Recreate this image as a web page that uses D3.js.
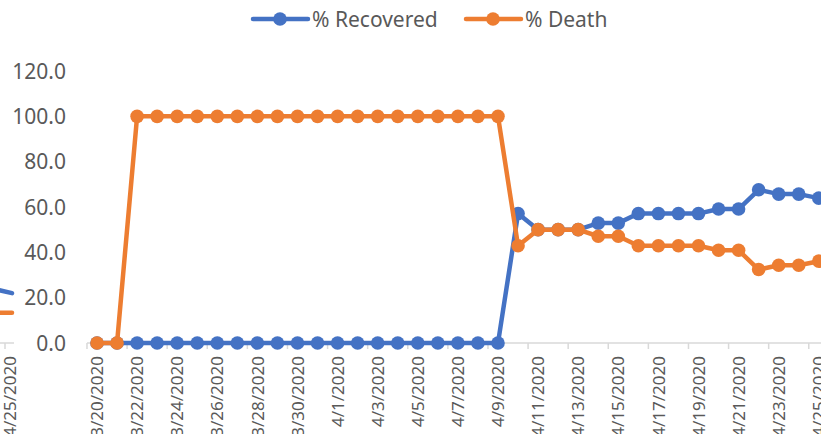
<!DOCTYPE html>
<html>
<head>
<meta charset="utf-8">
<script src="https://cdn.jsdelivr.net/npm/d3@7"></script>
<style>
  body { margin: 0; background: #fff; }
  svg { display: block; font-family: "Noto Sans", "Open Sans", sans-serif; }
</style>
</head>
<body>
<div id="chart"></div>
<script>
// dates on the category axis
const dates = [
  "3/20/2020", "3/21/2020", "3/22/2020", "3/23/2020", "3/24/2020", "3/25/2020",
  "3/26/2020", "3/27/2020", "3/28/2020", "3/29/2020", "3/30/2020", "3/31/2020",
  "4/1/2020", "4/2/2020", "4/3/2020", "4/4/2020", "4/5/2020", "4/6/2020",
  "4/7/2020", "4/8/2020", "4/9/2020", "4/10/2020", "4/11/2020", "4/12/2020",
  "4/13/2020", "4/14/2020", "4/15/2020", "4/16/2020", "4/17/2020", "4/18/2020",
  "4/19/2020", "4/20/2020", "4/21/2020", "4/22/2020", "4/23/2020", "4/24/2020",
  "4/25/2020"
];

const recovered = [
  0, 0, 0, 0, 0, 0, 0, 0, 0, 0, 0, 0, 0, 0, 0, 0, 0, 0, 0, 0, 0,
  57.1, 50.0, 50.0, 50.0, 52.9, 52.9, 57.1, 57.1, 57.1, 57.1, 59.1, 59.1,
  67.6, 65.7, 65.7, 63.9
];

const death = [
  0, 0, 100, 100, 100, 100, 100, 100, 100, 100, 100, 100, 100, 100, 100, 100,
  100, 100, 100, 100, 100,
  42.9, 50.0, 50.0, 50.0, 47.1, 47.1, 42.9, 42.9, 42.9, 42.9, 40.9, 40.9,
  32.4, 34.3, 34.3, 36.1
];

const yTicks = [0, 20, 40, 60, 80, 100, 120];

// tail of the neighbouring chart that shows at the left edge of the picture
const tailLabel = "4/25/2020";
const tailRecovered = [24.0, 22.0];
const tailDeath = [13.3, 13.3];

const W = 821, H = 434;
const blue = "#4472C4", orange = "#ED7D31";
const textColor = "#595959";

const svg = d3.select("#chart").append("svg")
  .attr("width", W)
  .attr("height", H);

const step = 20.05;
const x = d3.scalePoint()
  .domain(dates)
  .range([97, 97 + step * (dates.length - 1)]);

const y = d3.scaleLinear()
  .domain([0, 120])
  .range([343, 71]);

// y axis labels
svg.append("g")
  .selectAll("text")
  .data(yTicks)
  .join("text")
  .attr("x", 66)
  .attr("y", d => y(d))
  .attr("dy", "0.36em")
  .attr("text-anchor", "end")
  .attr("font-size", 21)
  .attr("fill", textColor)
  .text(d => d3.format(".1f")(d));

// x axis line and ticks
const axisG = svg.append("g");
axisG.append("line")
  .attr("x1", x(dates[0]) - step / 2)
  .attr("x2", W + 10)
  .attr("y1", y(0))
  .attr("y2", y(0))
  .attr("stroke", "#d9d9d9")
  .attr("stroke-width", 1.5);

axisG.selectAll(".tick")
  .data(dates.filter((d, i) => i % 2 === 0))
  .join("line")
  .attr("class", "tick")
  .attr("x1", d => x(d) - step / 2)
  .attr("x2", d => x(d) - step / 2)
  .attr("y1", y(0))
  .attr("y2", y(0) + 6)
  .attr("stroke", "#d9d9d9")
  .attr("stroke-width", 1.5);

axisG.selectAll(".lbl")
  .data(dates.filter((d, i) => i % 2 === 0))
  .join("text")
  .attr("class", "lbl")
  .attr("transform", d => `translate(${x(d)},${y(0) + 13}) rotate(-90)`)
  .attr("dy", "0.36em")
  .attr("text-anchor", "end")
  .attr("font-size", 17)
  .attr("fill", textColor)
  .text(d => d);

// series
const line = d3.line()
  .x((d, i) => x(dates[i]))
  .y(d => y(d));

const series = [
  { name: "% Recovered", values: recovered, color: blue },
  { name: "% Death", values: death, color: orange }
];

series.forEach(s => {
  const g = svg.append("g");
  g.append("path")
    .attr("d", line(s.values))
    .attr("fill", "none")
    .attr("stroke", s.color)
    .attr("stroke-width", 4.5)
    .attr("stroke-linejoin", "round");
  g.selectAll("circle")
    .data(s.values)
    .join("circle")
    .attr("cx", (d, i) => x(dates[i]))
    .attr("cy", d => y(d))
    .attr("r", 6.8)
    .attr("fill", s.color);
});

// left edge fragment of the neighbouring chart
const tail = svg.append("g");
const tx = d3.scaleLinear().domain([0, 1]).range([-8, 12]);
tail.append("line")
  .attr("x1", 0).attr("x2", 14)
  .attr("y1", y(0)).attr("y2", y(0))
  .attr("stroke", "#d9d9d9").attr("stroke-width", 1.5);
tail.append("line")
  .attr("x1", 5).attr("x2", 5)
  .attr("y1", y(0)).attr("y2", y(0) + 6)
  .attr("stroke", "#d9d9d9").attr("stroke-width", 1.5);
[[tailRecovered, blue], [tailDeath, orange]].forEach(([vals, c]) => {
  tail.append("path")
    .attr("d", d3.line().x((d, i) => tx(i)).y(d => y(d))(vals))
    .attr("fill", "none")
    .attr("stroke", c)
    .attr("stroke-width", 4.5)
    .attr("stroke-linecap", "round");
});
tail.append("text")
  .attr("transform", `translate(10,${y(0) + 13}) rotate(-90)`)
  .attr("dy", "0.36em")
  .attr("text-anchor", "end")
  .attr("font-size", 17)
  .attr("fill", textColor)
  .text(tailLabel);

// legend
const legendItems = [
  { name: "% Recovered", color: blue, x0: 253 },
  { name: "% Death", color: orange, x0: 466 }
];
const lg = svg.append("g");
legendItems.forEach(it => {
  lg.append("line")
    .attr("x1", it.x0).attr("x2", it.x0 + 55)
    .attr("y1", 19).attr("y2", 19)
    .attr("stroke", it.color).attr("stroke-width", 4.5)
    .attr("stroke-linecap", "round");
  lg.append("circle")
    .attr("cx", it.x0 + 27).attr("cy", 19).attr("r", 6.8)
    .attr("fill", it.color);
  lg.append("text")
    .attr("x", it.x0 + 59).attr("y", 19)
    .attr("dy", "0.36em")
    .attr("font-size", 21)
    .attr("fill", textColor)
    .text(it.name);
});
</script>
</body>
</html>
